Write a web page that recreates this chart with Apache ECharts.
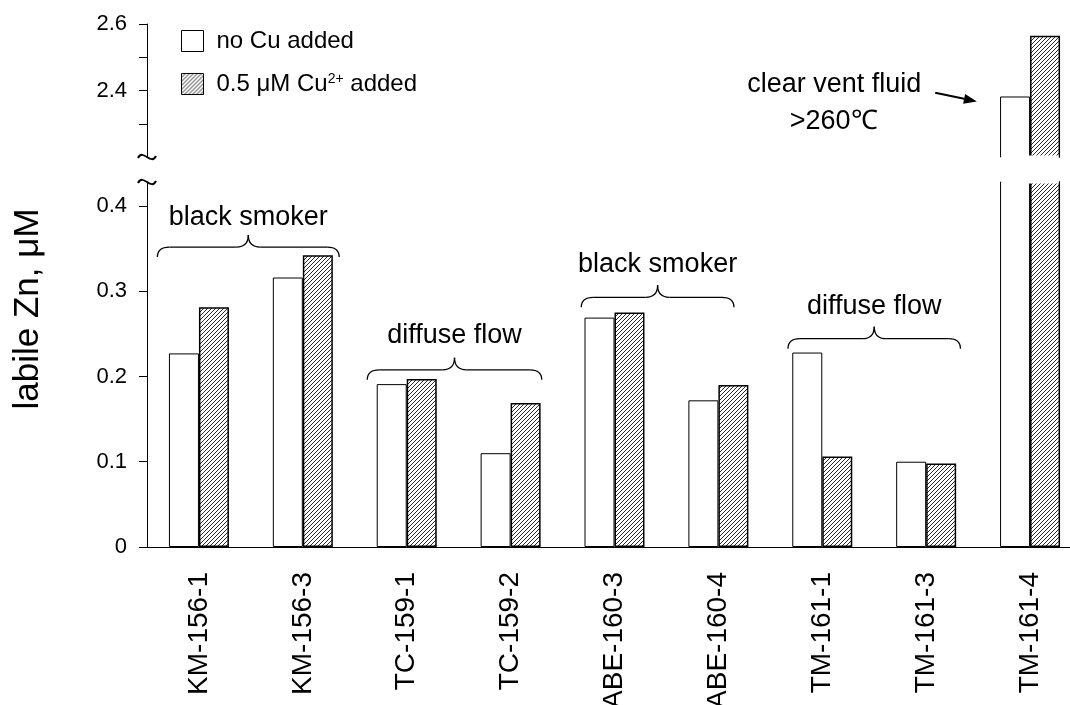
<!DOCTYPE html>
<html>
<head>
<meta charset="utf-8">
<script src="https://cdn.jsdelivr.net/npm/echarts@6/dist/echarts.min.js"></script>
<style>
  html, body { margin: 0; padding: 0; background: #fff; }
  #chart { width: 1070px; height: 705px; }
</style>
</head>
<body>
<div id="chart"></div>
<script>
// Samples and labile Zn concentrations (µM)
const samples = ['KM-156-1', 'KM-156-3', 'TC-159-1', 'TC-159-2', 'ABE-160-3', 'ABE-160-4', 'TM-161-1', 'TM-161-3', 'TM-161-4'];
const noCuAdded = [0.227, 0.316, 0.191, 0.110, 0.269, 0.172, 0.228, 0.100, 2.382];
const cuAdded = [0.281, 0.342, 0.197, 0.169, 0.275, 0.190, 0.106, 0.098, 2.565];

// Broken value axis: lower and upper segments
const lowerRange = [0, 0.428];
const upperRange = [2.2, 2.6];
const lowerTicks = [0, 0.1, 0.2, 0.3, 0.4];
const upperTicks = [2.3, 2.4, 2.5, 2.6];
const upperTickLabels = [2.4, 2.6];

// Sample groupings shown with braces (positions in category units)
const groupNames = ['black smoker', 'diffuse flow', 'black smoker', 'diffuse flow'];
const groupFrom = [-0.40, 1.62, 3.68, 5.67];
const groupTo = [1.35, 3.30, 5.15, 7.33];
const groupBraceValue = [0.340, 0.196, 0.281, 0.2325];
const groupLabelValue = [0.386, 0.248, 0.331, 0.282];

const NO_CU = 'no Cu added';
const WITH_CU = '0.5 μM Cu2+ added';
const FONT = '"Liberation Sans", Arial, Helvetica, sans-serif';
const BAR_WIDTH = 30;

function hatchTile() {
  const s = 4;
  const c = document.createElement('canvas');
  c.width = s; c.height = s;
  const g = c.getContext('2d');
  g.fillStyle = '#fff';
  g.fillRect(0, 0, s, s);
  g.strokeStyle = '#2a2a2a';
  g.lineWidth = 1;
  g.beginPath();
  for (const k of [-s, 0, s]) { g.moveTo(k, s); g.lineTo(k + s, 0); }
  g.stroke();
  return c;
}
const hatch = { image: hatchTile(), repeat: 'repeat' };

const whiteStyle = { color: '#fff', borderColor: '#000', borderWidth: 1 };
const hatchStyle = { color: hatch, borderColor: '#000', borderWidth: 1.5 };

const upperOnly = arr => arr.map(v => (v > upperRange[0] ? v : '-'));

const grids = [
  { left: 147, top: 182, width: 935, height: 365, outerBoundsMode: 'none', containLabel: false },
  { left: 147, top: 24, width: 935, height: 133, outerBoundsMode: 'none', containLabel: false }
];

const option = {
  backgroundColor: '#fff',
  animation: false,
  textStyle: { fontFamily: FONT, color: '#000' },
  grid: grids,
  legend: {
    orient: 'vertical',
    left: 181,
    top: 29,
    padding: 0,
    itemWidth: 22,
    itemHeight: 21,
    itemGap: 19,
    selectedMode: false,
    data: [
      { name: NO_CU, icon: 'rect', itemStyle: whiteStyle },
      { name: WITH_CU, icon: 'rect', itemStyle: { color: hatch, borderColor: '#000', borderWidth: 1 } }
    ],
    formatter: n => (n === WITH_CU ? '0.5 μM Cu{sup|2+} added' : n),
    textStyle: {
      fontSize: 24, fontFamily: FONT, color: '#000', padding: [0, 0, 0, 8],
      rich: { sup: { fontSize: 14, fontFamily: FONT, color: '#000', verticalAlign: 'top' } }
    }
  },
  xAxis: [
    {
      type: 'category', gridIndex: 0, data: samples,
      axisLine: { lineStyle: { color: '#000', width: 1 } },
      axisTick: { length: 10, alignWithLabel: false, lineStyle: { color: '#000' } },
      axisLabel: { rotate: 90, interval: 0, fontSize: 28, margin: 25, color: '#000', fontFamily: FONT }
    },
    { type: 'category', gridIndex: 1, data: samples, show: false }
  ],
  yAxis: [
    {
      type: 'value', gridIndex: 0, min: lowerRange[0], max: lowerRange[1],
      splitLine: { show: false },
      axisLine: { show: true, lineStyle: { color: '#000', width: 1 } },
      axisTick: { show: true, length: 8, customValues: lowerTicks, lineStyle: { color: '#000' } },
      axisLabel: { customValues: lowerTicks, fontSize: 22, margin: 20, color: '#000', fontFamily: FONT, formatter: v => String(v) }
    },
    {
      type: 'value', gridIndex: 1, min: upperRange[0], max: upperRange[1],
      splitLine: { show: false },
      axisLine: { show: true, lineStyle: { color: '#000', width: 1 } },
      axisTick: { show: true, length: 8, customValues: upperTicks, lineStyle: { color: '#000' } },
      axisLabel: { customValues: upperTickLabels, fontSize: 22, margin: 20, color: '#000', fontFamily: FONT, formatter: v => v.toFixed(1) }
    }
  ],
  series: [
    { name: NO_CU, type: 'bar', xAxisIndex: 0, yAxisIndex: 0, data: noCuAdded, barWidth: BAR_WIDTH, barGap: '0%', clip: true, itemStyle: whiteStyle },
    { name: WITH_CU, type: 'bar', xAxisIndex: 0, yAxisIndex: 0, data: cuAdded, barWidth: BAR_WIDTH, barGap: '0%', clip: true, itemStyle: hatchStyle },
    { name: NO_CU, type: 'bar', xAxisIndex: 1, yAxisIndex: 1, data: upperOnly(noCuAdded), barWidth: BAR_WIDTH, barGap: '0%', clip: true, itemStyle: whiteStyle },
    { name: WITH_CU, type: 'bar', xAxisIndex: 1, yAxisIndex: 1, data: upperOnly(cuAdded), barWidth: BAR_WIDTH, barGap: '0%', clip: true, itemStyle: hatchStyle }
  ]
};

const chart = echarts.init(document.getElementById('chart'), null, { renderer: 'canvas' });
chart.setOption(option);

// Annotations placed through the axes
const catX = i => chart.convertToPixel({ xAxisIndex: 0 }, i);
const band = catX(1) - catX(0);
const atCat = f => catX(0) + f * band;
const lowY = v => chart.convertToPixel({ yAxisIndex: 0 }, v);
const upY = v => chart.convertToPixel({ yAxisIndex: 1 }, v);
const axisX = catX(0) - band / 2;

const line = { stroke: '#000', lineWidth: 1.3, fill: null };

function brace(x1, x2, yEnd) {
  const yMid = yEnd - 10, yTip = yEnd - 22, xc = (x1 + x2) / 2, r = 12;
  const q = (a, b, c, d, e, f) => ({ type: 'bezierCurve', shape: { x1: a, y1: b, cpx1: c, cpy1: d, x2: e, y2: f }, style: line, silent: true });
  const l = (a, b, c, d) => ({ type: 'line', shape: { x1: a, y1: b, x2: c, y2: d }, style: line, silent: true });
  return [
    q(x1, yEnd, x1, yMid, x1 + r, yMid),
    l(x1 + r, yMid, xc - r, yMid),
    q(xc - r, yMid, xc, yMid, xc, yTip),
    q(xc, yTip, xc, yMid, xc + r, yMid),
    l(xc + r, yMid, x2 - r, yMid),
    q(x2 - r, yMid, x2, yMid, x2, yEnd)
  ];
}

function text(str, x, y, size, extra) {
  return Object.assign({
    type: 'text', x, y, silent: true,
    style: { text: str, fontSize: size, fontFamily: FONT, fill: '#000', align: 'center', verticalAlign: 'middle' }
  }, extra || {});
}

function tilde(x, y) {
  return {
    type: 'bezierCurve', silent: true, z: 10,
    shape: { x1: x - 9, y1: y + 1, cpx1: x - 4, cpy1: y - 9, cpx2: x + 4, cpy2: y + 9, x2: x + 9, y2: y - 1 },
    style: { stroke: '#000', lineWidth: 2, fill: null }
  };
}

// Bars cut by the axis break stay open at the cut edge
function openEdge(center, y) {
  return {
    type: 'rect', silent: true, z: 10,
    shape: { x: center - BAR_WIDTH + 1.2, y: y - 1.5, width: BAR_WIDTH * 2 - 2.4, height: 3 },
    style: { fill: '#fff' }
  };
}

const elements = [];
groupNames.forEach((name, i) => {
  const x1 = atCat(groupFrom[i]), x2 = atCat(groupTo[i]);
  elements.push(...brace(x1, x2, lowY(groupBraceValue[i])));
  elements.push(text(name, (x1 + x2) / 2, lowY(groupLabelValue[i]), 27));
});

samples.forEach((s, i) => {
  if (Math.max(noCuAdded[i], cuAdded[i]) > lowerRange[1]) {
    elements.push(openEdge(catX(i), lowY(lowerRange[1])));
    elements.push(openEdge(catX(i), upY(upperRange[0])));
  }
});

// Axis break marks
elements.push(tilde(axisX, upY(upperRange[0])));
elements.push(tilde(axisX, lowY(lowerRange[1])));

// Vent fluid note with arrow
const last = samples.length - 1;
elements.push(text('clear vent fluid', atCat(last - 1.885), upY(2.417), 27));
elements.push(text('>260℃', atCat(last - 1.89), upY(2.307), 27));
const ax1 = atCat(last - 0.913), ay1 = upY(2.393);
const ax2 = atCat(last - 0.512), ay2 = upY(2.367);
const ang = Math.atan2(ay2 - ay1, ax2 - ax1);
const hl = 13, hw = 5;
const bx = ax2 - hl * Math.cos(ang), by = ay2 - hl * Math.sin(ang);
elements.push({ type: 'line', silent: true, shape: { x1: ax1, y1: ay1, x2: bx, y2: by }, style: { stroke: '#000', lineWidth: 2 } });
elements.push({
  type: 'polygon', silent: true,
  shape: { points: [[ax2, ay2], [bx + hw * Math.sin(ang), by - hw * Math.cos(ang)], [bx - hw * Math.sin(ang), by + hw * Math.cos(ang)]] },
  style: { fill: '#000' }
});

// Value axis title
elements.push(text('labile Zn, μM', 28, 309, 35, { rotation: Math.PI / 2 }));

chart.setOption({ graphic: { elements } });
</script>
</body>
</html>
